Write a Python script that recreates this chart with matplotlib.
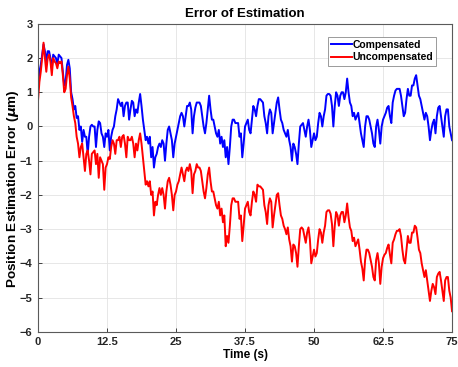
import numpy as np
from matplotlib import pyplot as plt

# sample times [s], one reading every quarter second
time_s = np.arange(0, 75.001, 0.25)

# position estimation error [um], compensated estimator (2.5 s per row)
err_comp = [
    1.2, 1.6, 1.8, 2.1, 2.4, 2.2, 1.9, 2.2, 2.2, 2.0,
    1.7, 2.1, 2.05, 2.0, 1.8, 2.1, 2.05, 2.0, 1.6, 1.2,
    1.3, 1.8, 1.95, 1.7, 1.0, 0.8, 0.5, 0.6, 0.25, 0.3,
    -0.1, 0.0, -0.45, -0.1, -0.3, -0.3, -0.8, -0.3, 0.0, 0.05,
    0.0, 0.0, -0.6, -0.1, 0.15, 0.1, -0.2, -0.3, -0.6, -0.2,
    -0.3, -0.1, -0.7, -0.3, -0.1, 0.0, 0.3, 0.5, 0.8, 0.7,
    0.6, 0.7, 0.3, 0.6, 0.7, 0.7, 0.2, 0.5, 0.75, 0.7,
    0.3, 0.5, 0.4, 0.7, 0.95, 0.6, 0.2, -0.1, -0.4, -0.3,
    -0.5, -0.3, -0.9, -0.6, -1.2, -0.9, -0.8, -0.6, -0.5, -0.6,
    -0.4, -0.5, -1.0, -0.5, -0.1, 0.0, -0.2, -0.4, -0.9, -0.5,
    -0.3, -0.1, 0.1, 0.3, 0.4, 0.3, 0.0, 0.3, 0.6, 0.6,
    0.7, 0.5, -0.2, 0.3, 0.55, 0.7, 0.7, 0.7, 0.6, 0.3,
    0.0, -0.2, 0.1, 0.5, 0.9, 0.5, 0.2, 0.2, 0.0, -0.2,
    -0.3, -0.1, -0.5, -0.3, -0.6, -0.4, -0.9, -0.6, -1.1, -0.6,
    0.0, 0.2, 0.2, 0.1, 0.1, 0.1, -0.3, -0.2, -0.9, -0.5,
    0.0, 0.1, 0.2, -0.1, -0.2, 0.2, 0.6, 0.5, 0.3, 0.6,
    0.8, 0.8, 0.75, 0.7, 0.3, 0.1, -0.2, 0.3, 0.5, 0.4,
    -0.2, 0.1, 0.4, 0.7, 0.85, 0.5, 0.2, 0.1, -0.1, -0.2,
    -0.3, -0.1, -0.4, -0.6, -1.0, -0.5, -0.6, -0.8, -1.1, -0.5,
    0.0, 0.05, 0.1, -0.1, -0.3, 0.0, 0.2, -0.1, -0.6, -0.4,
    -0.2, -0.4, -0.3, 0.1, 0.4, 0.3, 0.0, 0.3, 0.5, 0.9,
    0.95, 0.95, 0.9, 0.6, 0.0, 0.6, 1.0, 0.9, 0.6, 0.9,
    1.0, 1.0, 0.8, 1.0, 1.4, 1.0, 0.7, 0.6, 0.3, 0.4,
    0.2, 0.3, 0.4, 0.1, -0.2, -0.4, -0.6, 0.0, 0.3, 0.3,
    0.2, 0.0, -0.2, -0.5, -0.6, 0.0, 0.2, -0.1, -0.5, 0.0,
    0.2, 0.3, 0.4, 0.55, 0.6, 0.3, 0.1, 0.7, 0.9, 1.05,
    1.1, 1.1, 1.1, 0.9, 0.6, 0.3, 0.4, 0.8, 1.1, 0.9,
    0.9, 1.2, 1.2, 1.4, 1.5, 1.2, 0.9, 0.8, 0.6, 0.4,
    0.2, 0.4, 0.3, 0.0, -0.4, -0.1, 0.1, 0.2, -0.2, 0.3,
    0.55, 0.6, 0.3, 0.0, -0.3, 0.3, 0.5, 0.5, 0.0, -0.2,
    -0.4,
]

# position estimation error [um], uncompensated estimator (2.5 s per row)
err_uncomp = [
    0.75, 1.3, 1.6, 2.0, 2.45, 2.0, 1.6, 2.0, 2.1, 1.9,
    1.5, 2.0, 1.9, 1.85, 1.7, 1.9, 1.85, 1.9, 1.5, 1.0,
    1.1, 1.5, 1.75, 1.4, 0.85, 0.6, 0.3, 0.1, -0.3, -0.5,
    -0.9, -0.6, -0.5, -0.9, -1.3, -0.8, -0.7, -1.0, -1.4, -0.8,
    -0.75, -0.7, -1.1, -0.8, -1.5, -0.9, -1.0, -1.1, -1.85, -1.2,
    -1.1, -0.9, -0.95, -0.6, -0.4, -0.5, -0.8, -0.4, -0.4, -0.3,
    -0.6, -0.3, -0.25, -0.5, -0.9, -0.3, -0.4, -0.4, -0.3, -0.5,
    -0.9, -0.5, -0.7, -0.4, -0.2, -0.5, -0.9, -1.3, -1.7, -1.6,
    -1.75, -1.6, -2.0, -1.9, -2.6, -2.2, -2.3, -2.0, -1.8, -2.0,
    -1.8, -2.0, -2.4, -1.9, -1.6, -1.5, -1.7, -2.0, -2.45, -2.0,
    -1.9, -1.7, -1.6, -1.4, -1.2, -1.4, -1.6, -1.3, -1.2, -1.3,
    -1.1, -1.3, -1.95, -1.4, -1.3, -1.1, -1.2, -1.2, -1.3, -1.6,
    -1.9, -2.1, -1.8, -1.4, -1.2, -1.6, -1.9, -1.9, -2.1, -2.3,
    -2.4, -2.2, -2.6, -2.4, -2.8, -2.6, -3.5, -3.2, -3.4, -2.9,
    -2.3, -2.1, -2.1, -2.2, -2.2, -2.2, -2.7, -2.6, -3.35, -2.9,
    -2.4, -2.3, -2.2, -2.5, -2.6, -2.2, -1.9, -2.0, -2.2, -1.7,
    -1.75, -1.75, -1.8, -1.85, -2.3, -2.5, -2.85, -2.3, -2.1, -2.2,
    -2.95, -2.6, -2.3, -2.0, -1.95, -2.3, -2.6, -2.7, -2.9, -3.0,
    -3.15, -2.95, -3.3, -3.5, -3.95, -3.45, -3.5, -3.7, -4.1, -3.5,
    -3.0, -2.95, -3.0, -3.2, -3.4, -3.1, -2.95, -3.3, -4.0, -3.8,
    -3.6, -3.8, -3.7, -3.3, -3.0, -3.1, -3.4, -3.1, -2.9, -2.5,
    -2.45, -2.45, -2.55, -2.85, -3.5, -2.9, -2.5, -2.6, -2.9, -2.6,
    -2.5, -2.5, -2.8, -2.6, -2.25, -2.65, -2.95, -3.05, -3.35, -3.25,
    -3.5, -3.4, -3.3, -3.6, -3.95, -4.15, -4.5, -3.9, -3.6, -3.6,
    -3.7, -3.9, -4.1, -4.4, -4.5, -3.9, -3.7, -4.0, -4.6, -4.1,
    -3.85, -3.75, -3.7, -3.55, -3.45, -3.75, -4.0, -3.4, -3.3, -3.15,
    -3.05, -3.05, -3.0, -3.2, -3.6, -3.9, -4.0, -3.6, -3.2, -3.4,
    -3.4, -3.1, -3.1, -2.9, -2.95, -3.25, -3.6, -3.7, -4.0, -4.2,
    -4.4, -4.2, -4.5, -4.8, -5.1, -4.8, -4.6, -4.7, -4.9, -4.4,
    -4.3, -4.25, -4.5, -4.8, -5.1, -4.5, -4.4, -4.4, -4.8, -5.0,
    -5.4,
]

x_ticks = [0, 12.5, 25, 37.5, 50, 62.5, 75]
x_tick_labels = ['0', '12.5', '25', '37.5', '50', '62.5', '75']
y_ticks = [-6, -5, -4, -3, -2, -1, 0, 1, 2, 3]

plt.rcParams['font.family'] = ['Liberation Sans', 'DejaVu Sans']
plt.rcParams['font.weight'] = 'bold'
plt.rcParams['axes.labelweight'] = 'bold'
plt.rcParams['axes.titleweight'] = 'bold'


def plot_error():
    f = plt.figure(figsize=(4.58, 3.67), dpi=100)
    ax = f.add_axes([0.083, 0.096, 0.904, 0.839])

    ax.plot(time_s, err_comp, color=(0, 0, 1), lw=1.4, label='Compensated')
    ax.plot(time_s, err_uncomp, color=(1, 0, 0), lw=1.4, label='Uncompensated')

    ax.set_xlim(0, 75)
    ax.set_ylim(-6, 3)
    ax.set_xticks(x_ticks)
    ax.set_xticklabels(x_tick_labels)
    ax.set_yticks(y_ticks)
    ax.tick_params(direction='in', length=3, width=0.6, labelsize=8,
                   colors='#262626', pad=4)
    ax.grid(True, color='#e3e3e3', lw=0.6)
    ax.set_axisbelow(True)
    for s in ax.spines.values():
        s.set_color('#5a5a5a')
        s.set_linewidth(0.8)

    ax.set_xlabel('Time (s)', fontsize=8.5, labelpad=1)
    ax.set_ylabel(r'Position Estimation Error ($\mu$m)', fontsize=9.7)
    ax.yaxis.set_label_coords(-0.041, 0.465)
    ax.set_title('Error of Estimation', fontsize=9.5, pad=5)

    leg = ax.legend(loc='upper right', bbox_to_anchor=(0.975, 0.975),
                    fontsize=7.5, handlelength=2.0, handletextpad=0.1,
                    borderpad=0.3, labelspacing=0.25, fancybox=False,
                    framealpha=1)
    leg.get_frame().set_edgecolor('#8a8a8a')
    leg.get_frame().set_linewidth(0.6)

    plt.savefig('out.png', dpi=100)


if __name__ == "__main__":
    plot_error()
